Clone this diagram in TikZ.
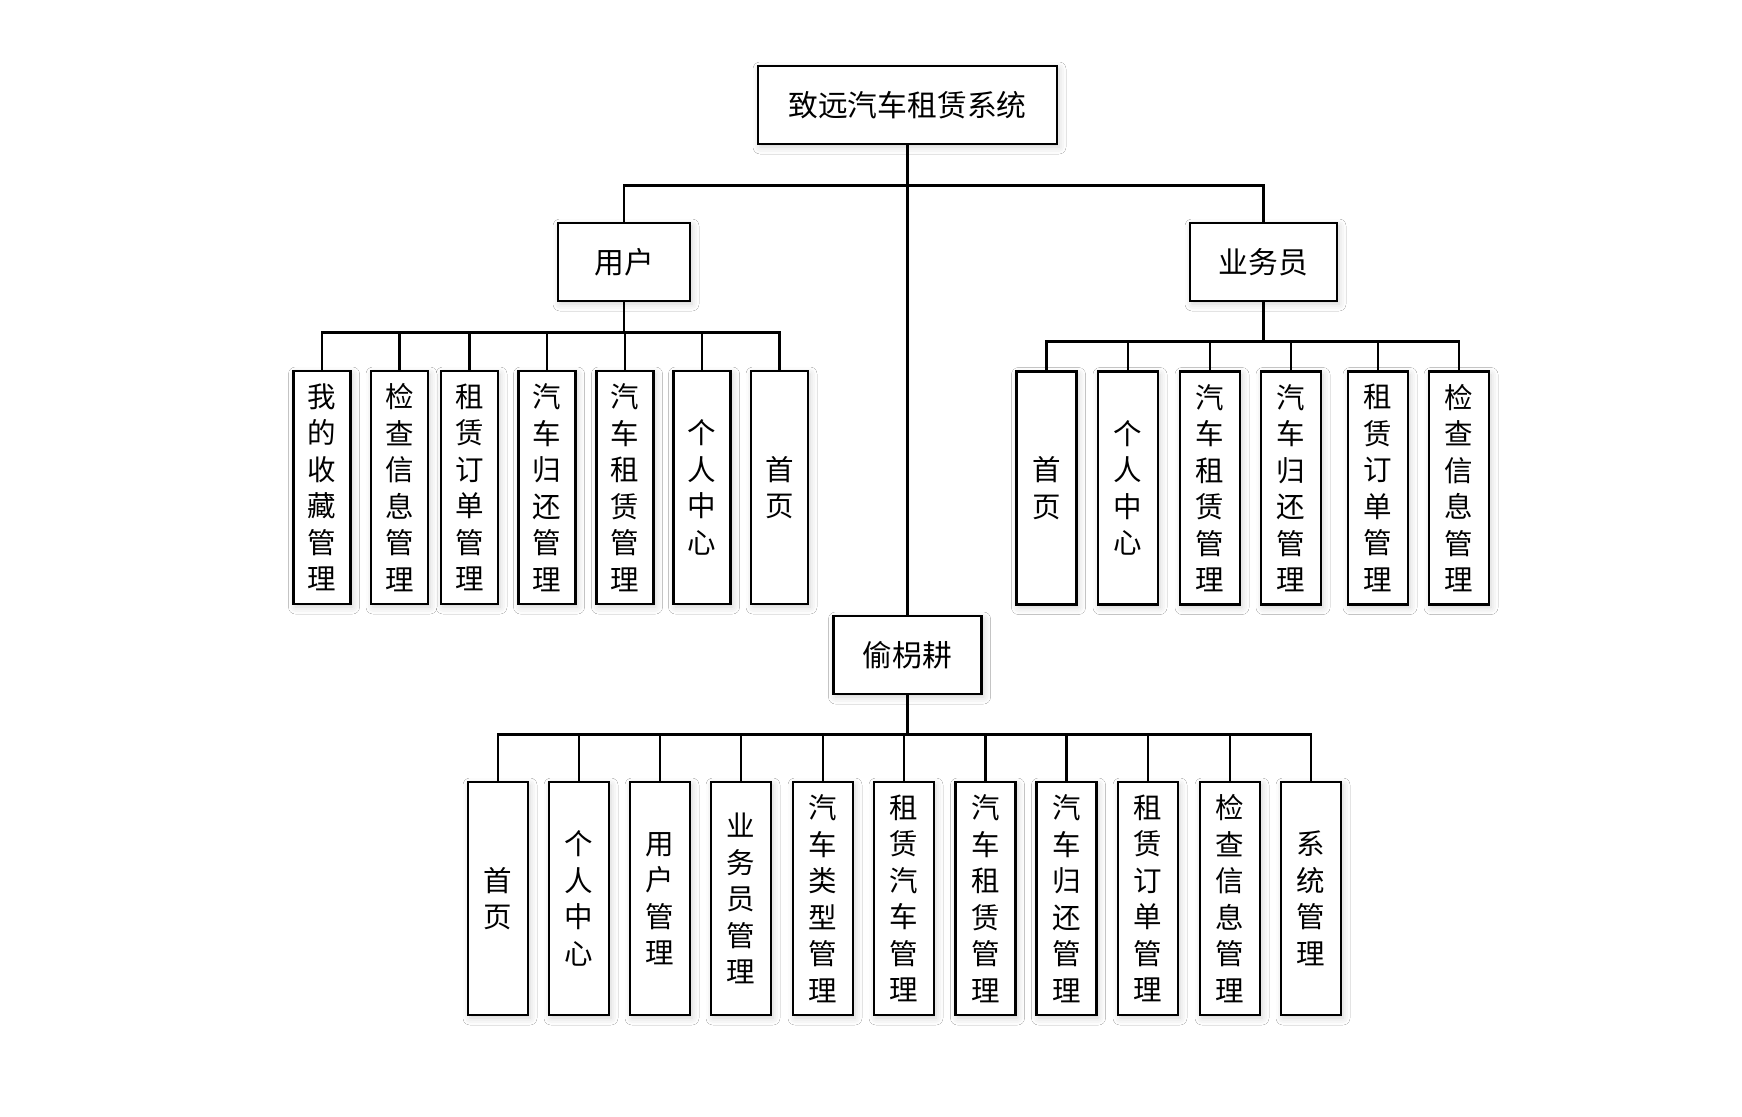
\documentclass[tikz,border=0pt]{standalone}
\usepackage{fontspec}
\newfontfamily\cjk{Noto Sans CJK SC}
\usetikzlibrary{shadows.blur}
\begin{document}
\begin{tikzpicture}[x=1pt,y=-1pt,
  box/.style={draw=black, line width=2.4pt, fill=white, inner sep=0pt,
    blur shadow={shadow xshift=2pt, shadow yshift=-3pt, shadow blur radius=7pt, shadow opacity=18}},
  hbox/.style={box, minimum height=78pt, font=\cjk\fontsize{29.8}{34}\selectfont},
  vbox/.style={box, minimum width=60pt, minimum height=233pt, align=center,
    font=\cjk\fontsize{28.5}{36.5}\selectfont},
  conn/.style={line width=2.7pt}]
\useasboundingbox[fill=white] (0,0) rectangle (1742,1116);
% top levels
\node[hbox, minimum width=299pt] (root) at (907.5,105) {致远汽车租赁系统};
\node[hbox, minimum width=132pt] (user) at (624,262) {用户};
\node[hbox, minimum width=147pt] (staff) at (1263.5,262) {业务员};
\node[hbox, minimum width=148pt] (admin) at (907.5,655) {偷枴耕};
% user children
\node[vbox, minimum width=57pt] (u1) at (322,487.5) {我\\的\\收\\藏\\管\\理};
\node[vbox, minimum width=57pt] (u2) at (399.5,487.5) {检\\查\\信\\息\\管\\理};
\node[vbox, minimum width=57pt] (u3) at (469.5,487.5) {租\\赁\\订\\单\\管\\理};
\node[vbox, minimum width=57pt] (u4) at (547,487.5) {汽\\车\\归\\还\\管\\理};
\node[vbox, minimum width=57pt] (u5) at (625,487.5) {汽\\车\\租\\赁\\管\\理};
\node[vbox, minimum width=57pt] (u6) at (702,487.5) {个\\人\\中\\心};
\node[vbox, minimum width=57pt] (u7) at (779.5,487.5) {首\\页};
% staff children
\node[vbox] (s1) at (1046.5,488) {首\\页};
\node[vbox] (s2) at (1128,488) {个\\人\\中\\心};
\node[vbox] (s3) at (1210,488) {汽\\车\\租\\赁\\管\\理};
\node[vbox] (s4) at (1291,488) {汽\\车\\归\\还\\管\\理};
\node[vbox] (s5) at (1378,488) {租\\赁\\订\\单\\管\\理};
\node[vbox] (s6) at (1459,488) {检\\查\\信\\息\\管\\理};
% admin children
\node[vbox] (a1) at (498,898.5) {首\\页};
\node[vbox] (a2) at (579,898.5) {个\\人\\中\\心};
\node[vbox] (a3) at (660,898.5) {用\\户\\管\\理};
\node[vbox] (a4) at (741,898.5) {业\\务\\员\\管\\理};
\node[vbox] (a5) at (823,898.5) {汽\\车\\类\\型\\管\\理};
\node[vbox] (a6) at (904,898.5) {租\\赁\\汽\\车\\管\\理};
\node[vbox] (a7) at (985.5,898.5) {汽\\车\\租\\赁\\管\\理};
\node[vbox] (a8) at (1066.5,898.5) {汽\\车\\归\\还\\管\\理};
\node[vbox] (a9) at (1148,898.5) {租\\赁\\订\\单\\管\\理};
\node[vbox] (a10) at (1230,898.5) {检\\查\\信\\息\\管\\理};
\node[vbox] (a11) at (1311,898.5) {系\\统\\管\\理};
% connectors
\draw[conn] (root.south) -- ++(0,40) -| (user.north);
\draw[conn] (root.south) -- ++(0,40) -| (staff.north);
\draw[conn] (root.south) -- (admin.north);
\foreach \c in {u1,u2,u3,u4,u5,u6,u7}
  \draw[conn] (user.south) -- ++(0,30) -| (\c.north);
\foreach \c in {s1,s2,s3,s4,s5,s6}
  \draw[conn] (staff.south) -- ++(0,39) -| (\c.north);
\foreach \c in {a1,a2,a3,a4,a5,a6,a7,a8,a9,a10,a11}
  \draw[conn] (admin.south) -- ++(0,39) -| (\c.north);
\end{tikzpicture}
\end{document}
